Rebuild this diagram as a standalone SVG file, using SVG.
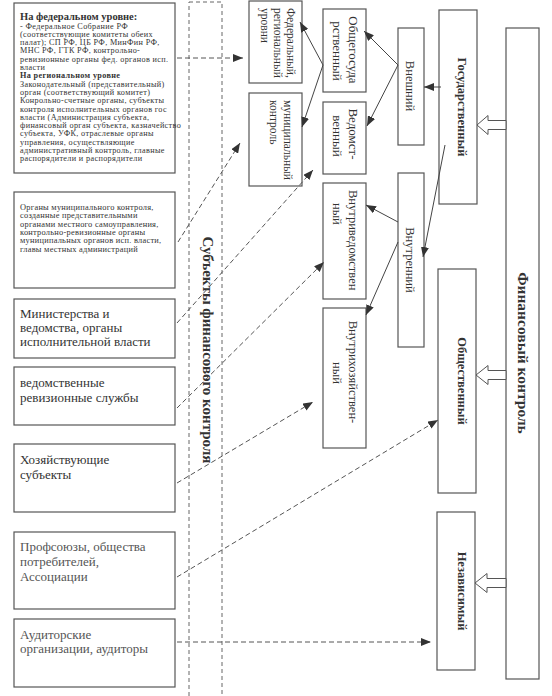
<svg xmlns="http://www.w3.org/2000/svg" width="552" height="696" viewBox="0 0 552 696" font-family="'Liberation Serif', 'Times New Roman', serif">
<defs>
<marker id="ah" markerUnits="userSpaceOnUse" markerWidth="10" markerHeight="8" refX="10" refY="4" orient="auto">
<path d="M0,0 L10,4 L0,8 z" fill="#333"/>
</marker>
<style>
.box{fill:#fff;stroke:#555;stroke-width:1.2}
.t{font-family:'Liberation Serif','Times New Roman',serif;fill:#333}
.s{font-size:8.2px;letter-spacing:0.35px}
.s2{font-size:8.4px;letter-spacing:0.25px}
.m{font-size:13px}
.m2{font-size:13px;fill:#555}
.hb{font-weight:bold}
.rv{font-size:11.5px}
.rc{font-size:13px}
.rb{font-size:12.5px;font-weight:bold}
.band{fill:none;stroke:#666;stroke-width:1;stroke-dasharray:4 3}
.dl{fill:none;stroke:#555;stroke-width:1;stroke-dasharray:5 3}
.sl{fill:none;stroke:#444;stroke-width:1}
.ha{fill:#fff;stroke:#555;stroke-width:1}
</style>
</defs>
<rect width="552" height="696" fill="#fff"/>

<g id="band">
<rect class="band" x="189" y="2" width="33" height="720"/>
<text class="t hb" font-size="15" text-anchor="middle" transform="translate(203,350) rotate(90)">Субъекты финансового контроля</text>
</g>

<g id="n-federal-regional">
<rect class="box" x="14" y="3" width="161" height="170"/>
<text class="t hb" font-size="10.5" x="20" y="20">На федеральном уровне:</text>
<text class="t s" x="20" y="28.5">- Федеральное Собрание РФ</text>
<text class="t s" x="20" y="36.8">(соответствующие комитеты обеих</text>
<text class="t s" x="20" y="45.1">палат); СП РФ, ЦБ РФ, МинФин РФ,</text>
<text class="t s" x="20" y="53.4">МНС РФ, ГТК РФ, контрольно-</text>
<text class="t s" x="20" y="61.7">ревизионные органы фед. органов исп.</text>
<text class="t s" x="20" y="70">власти</text>
<text class="t s hb" x="20" y="78.3">На региональном уровне</text>
<text class="t s" x="20" y="86.6">Законодательный (представительный)</text>
<text class="t s" x="20" y="94.9">орган (соответствующий комитет)</text>
<text class="t s" x="20" y="103.2">Конрольно-счетные органы, субъекты</text>
<text class="t s" x="20" y="111.5">контроля исполнительных органов гос</text>
<text class="t s" x="20" y="119.8">власти (Администрация субъекта,</text>
<text class="t s" x="20" y="128.1">финансовый орган субъекта, казначейство</text>
<text class="t s" x="20" y="136.4">субъекта, УФК, отраслевые органы</text>
<text class="t s" x="20" y="144.7">управления, осуществляющие</text>
<text class="t s" x="20" y="153">административный контроль, главные</text>
<text class="t s" x="20" y="161.3">распорядители и распорядители</text>
</g>

<g id="n-municipal-bodies">
<rect class="box" x="14" y="192" width="161" height="96"/>
<text class="t s2" x="20" y="210">Органы муниципального контроля,</text>
<text class="t s2" x="20" y="218.3">созданные представительными</text>
<text class="t s2" x="20" y="226.6">органами местного самоуправления,</text>
<text class="t s2" x="20" y="234.9">контрольно-ревизионные органы</text>
<text class="t s2" x="20" y="243.2">муниципальных органов исп. власти,</text>
<text class="t s2" x="20" y="251.5">главы местных администраций</text>
</g>

<g id="n-ministries">
<rect class="box" x="14" y="299" width="161" height="59"/>
<text class="t m" x="20" y="318">Министерства и</text>
<text class="t m" x="20" y="332">ведомства, органы</text>
<text class="t m" x="20" y="346">исполнительной власти</text>
</g>

<g id="n-audit-services">
<rect class="box" x="14" y="367" width="161" height="58"/>
<text class="t m" x="20" y="387">ведомственные</text>
<text class="t m" x="20" y="402">ревизионные службы</text>
</g>

<g id="n-economic">
<rect class="box" x="14" y="444" width="161" height="68"/>
<text class="t m" x="20" y="464">Хозяйствующие</text>
<text class="t m" x="20" y="479">субъекты</text>
</g>

<g id="n-unions">
<rect class="box" x="14" y="532" width="161" height="77"/>
<text class="t m2" x="20" y="551">Профсоюзы, общества</text>
<text class="t m2" x="20" y="566">потребителей,</text>
<text class="t m2" x="20" y="581">Ассоциации</text>
</g>

<g id="n-auditors">
<rect class="box" x="14" y="619" width="161" height="68"/>
<text class="t m2" x="20" y="639">Аудиторские</text>
<text class="t m2" x="20" y="653">организации, аудиторы</text>
</g>

<g id="n-fed-reg-levels">
<rect class="box" x="249" y="1" width="53" height="82"/>
<text class="t rv" transform="translate(287,8) rotate(90)">Федеральный,</text>
<text class="t rv" transform="translate(274,8) rotate(90)">региональный</text>
<text class="t rv" transform="translate(261,8) rotate(90)">уровни</text>
</g>

<g id="n-municipal-control">
<rect class="box" x="249" y="93" width="53" height="93"/>
<text class="t rv" transform="translate(284,100) rotate(90)">муниципальный</text>
<text class="t rv" transform="translate(270,100) rotate(90)">контроль</text>
</g>

<g id="n-obshchegos">
<rect class="box" x="323" y="9" width="43" height="83"/>
<text class="t rc" text-anchor="middle" transform="translate(348.5,50) rotate(90)">Общегосуда</text>
<text class="t rc" text-anchor="middle" transform="translate(332.5,51) rotate(90)">рственный</text>
</g>

<g id="n-vedomst">
<rect class="box" x="323" y="102" width="43" height="72"/>
<text class="t rc" text-anchor="middle" transform="translate(348.5,134) rotate(90)">Ведомст-</text>
<text class="t rc" text-anchor="middle" transform="translate(332.5,136) rotate(90)">венный</text>
</g>

<g id="n-vnutrived">
<rect class="box" x="323" y="183" width="43" height="116"/>
<text class="t" font-size="12.5" transform="translate(348.5,190) rotate(90)">Внутриведомствен</text>
<text class="t" font-size="12.5" transform="translate(332.5,203) rotate(90)">ный</text>
</g>

<g id="n-vnutrihoz">
<rect class="box" x="323" y="308" width="43" height="140"/>
<text class="t" font-size="12.5" text-anchor="middle" transform="translate(348.5,372) rotate(90)">Внутрихозяйствен-</text>
<text class="t" font-size="12.5" text-anchor="middle" transform="translate(332.5,373) rotate(90)">ный</text>
</g>

<g id="n-vneshniy">
<rect class="box" x="398" y="28" width="26" height="117"/>
<text class="t" font-size="12.5" text-anchor="middle" transform="translate(405.5,86) rotate(90)">Внешний</text>
</g>

<g id="n-vnutrenniy">
<rect class="box" x="398" y="173" width="26" height="174"/>
<text class="t" font-size="12.5" text-anchor="middle" transform="translate(405.5,260) rotate(90)">Внутренний</text>
</g>

<g id="n-gos">
<rect class="box" x="439" y="10" width="38" height="194"/>
<text class="t rb" text-anchor="middle" transform="translate(457.5,107) rotate(90)">Государственный</text>
</g>

<g id="n-obshchestv">
<rect class="box" x="438" y="269" width="38" height="224"/>
<text class="t rb" text-anchor="middle" transform="translate(457.5,381) rotate(90)">Общественный</text>
</g>

<g id="n-nezav">
<rect class="box" x="437" y="512" width="38" height="158"/>
<text class="t rb" text-anchor="middle" transform="translate(457.5,591) rotate(90)">Независимый</text>
</g>

<g id="n-fin">
<rect class="box" x="506" y="28" width="33" height="651"/>
<text class="t hb" font-size="15.5" text-anchor="middle" transform="translate(518,353) rotate(90)">Финансовый контроль</text>
</g>

<g id="connectors">
<polygon class="ha" points="506,120.5 488,120.5 488,115.5 477,125 488,134.5 488,129.5 506,129.5"/>
<polygon class="ha" points="506,370.5 488,370.5 488,365.5 476,375 488,384.5 488,379.5 506,379.5"/>
<polygon class="ha" points="506,578.5 487,578.5 487,573.5 475,583 487,592.5 487,587.5 506,587.5"/>

<line class="sl" x1="441" y1="87" x2="424" y2="87" marker-end="url(#ah)"/>
<line class="sl" x1="445" y1="145" x2="423" y2="257" marker-end="url(#ah)"/>
<line class="sl" x1="398" y1="65" x2="364" y2="31" marker-end="url(#ah)"/>
<line class="sl" x1="398" y1="65" x2="367" y2="126" marker-end="url(#ah)"/>
<line class="sl" x1="398" y1="222" x2="366" y2="205" marker-end="url(#ah)"/>
<line class="sl" x1="398" y1="242" x2="366" y2="315" marker-end="url(#ah)"/>
<line class="sl" x1="323" y1="65" x2="300" y2="22" marker-end="url(#ah)"/>
<line class="sl" x1="323" y1="65" x2="302" y2="127" marker-end="url(#ah)"/>

<line class="dl" x1="177" y1="58" x2="243" y2="58" marker-end="url(#ah)"/>
<line class="dl" x1="178" y1="242" x2="240" y2="143" marker-end="url(#ah)"/>
<line class="dl" x1="177" y1="323" x2="313" y2="170" marker-end="url(#ah)"/>
<line class="dl" x1="177" y1="408" x2="324" y2="262" marker-end="url(#ah)"/>
<line class="dl" x1="177" y1="483" x2="313" y2="402" marker-end="url(#ah)"/>
<line class="dl" x1="177" y1="577" x2="438" y2="420" marker-end="url(#ah)"/>
<line class="dl" x1="177" y1="642" x2="431" y2="642" marker-end="url(#ah)"/>
</g>
</svg>
